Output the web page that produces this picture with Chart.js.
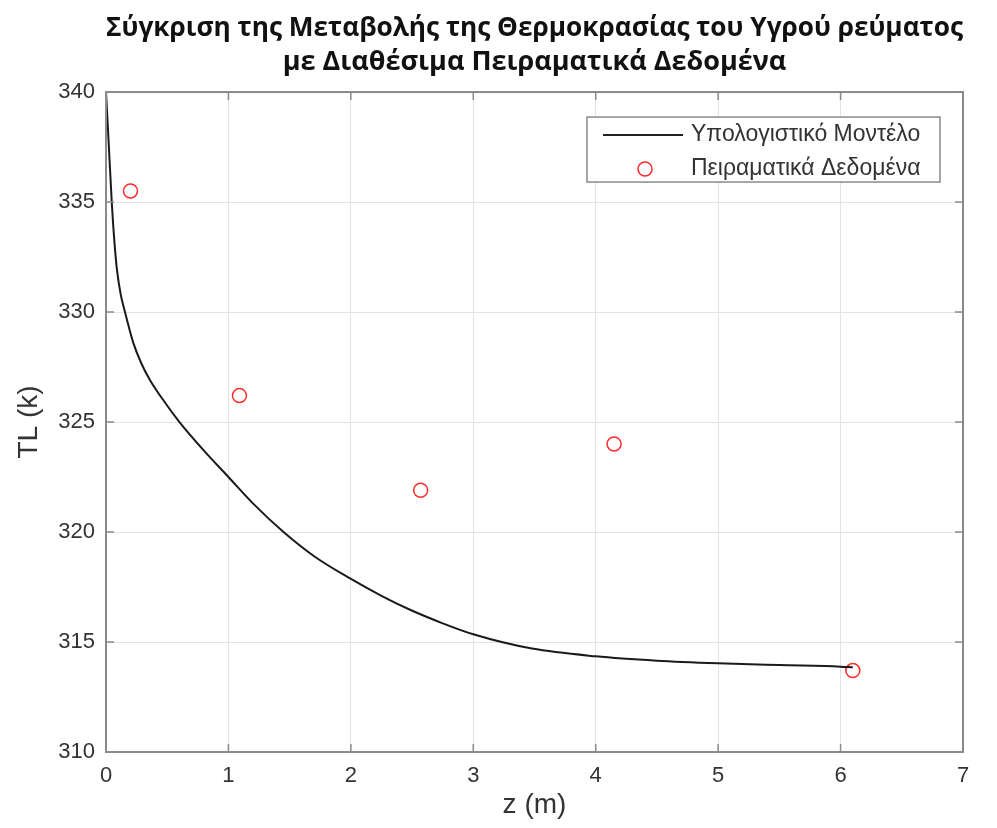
<!DOCTYPE html>
<html>
<head>
<meta charset="utf-8">
<script src="https://cdn.jsdelivr.net/npm/chart.js@4.4.0/dist/chart.umd.min.js"></script>
<style>
  html, body { margin: 0; padding: 0; background: #fff; }
  #wrap { width: 997px; height: 828px; }
</style>
</head>
<body>
<div id="wrap"><canvas id="grafik" width="997" height="828"></canvas></div>
<script>
// Υπολογιστικό μοντέλο (τιμές από το γράφημα)
const zModel = [0, 0.02, 0.047, 0.07, 0.09, 0.12, 0.155, 0.19, 0.223, 0.29, 0.36, 0.48, 0.6, 0.8, 1.0, 1.2, 1.45, 1.7, 1.99, 2.25, 2.47, 2.75, 3.0, 3.48, 4.0, 4.5, 5.0, 5.5, 6.0, 6.1];
const tlModel = [340, 337.9, 335.0, 333.1, 331.9, 330.8, 330.0, 329.25, 328.6, 327.65, 326.9, 325.9, 325.0, 323.7, 322.5, 321.3, 320.0, 318.9, 317.9, 317.1, 316.5, 315.85, 315.35, 314.7, 314.35, 314.15, 314.03, 313.95, 313.88, 313.85];

// Πειραματικά δεδομένα
const zExp = [0.2, 1.09, 2.57, 4.15, 6.1];
const tlExp = [335.5, 326.2, 321.9, 324.0, 313.7];

// Άξονες
const xMin = 0, xMax = 7, xStep = 1;
const yMin = 310, yMax = 340, yStep = 5;

const labelModel = "Υπολογιστικό Μοντέλο";
const labelExp = "Πειραματικά Δεδομένα";

const axisGray = "#8a8a8a";
const textGray = "#333333";
const sans = "'Liberation Sans', Arial, sans-serif";

// Πλαίσιο γύρω από την περιοχή και εσωτερικές υποδιαιρέσεις
const boxPlugin = {
    id: "boxPlugin",
    afterDraw(chart) {
        const { ctx, chartArea: a, scales } = chart;
        ctx.save();
        ctx.strokeStyle = axisGray;
        ctx.lineWidth = 2;
        ctx.strokeRect(a.left, a.top, a.right - a.left, a.bottom - a.top);
        ctx.lineWidth = 1.5;
        const len = 8;
        ctx.beginPath();
        scales.x.ticks.forEach(t => {
            const x = scales.x.getPixelForValue(t.value);
            ctx.moveTo(x, a.bottom); ctx.lineTo(x, a.bottom - len);
            ctx.moveTo(x, a.top); ctx.lineTo(x, a.top + len);
        });
        scales.y.ticks.forEach(t => {
            const y = scales.y.getPixelForValue(t.value);
            ctx.moveTo(a.left, y); ctx.lineTo(a.left + len, y);
            ctx.moveTo(a.right, y); ctx.lineTo(a.right - len, y);
        });
        ctx.stroke();
        ctx.restore();
    }
};

// Υπόμνημα μέσα στην περιοχή του γραφήματος (πάνω δεξιά)
const legendPlugin = {
    id: "legendPlugin",
    afterDraw(chart) {
        const { ctx, chartArea: a } = chart;
        const w = 353, h = 65;
        const x0 = a.right - 23 - w, y0 = a.top + 25;
        ctx.save();
        ctx.fillStyle = "#fff";
        ctx.fillRect(x0, y0, w, h);
        ctx.strokeStyle = axisGray;
        ctx.lineWidth = 1.5;
        ctx.strokeRect(x0, y0, w, h);

        const row1 = y0 + 18, row2 = y0 + 52;
        ctx.strokeStyle = "#222";
        ctx.lineWidth = 2;
        ctx.beginPath();
        ctx.moveTo(x0 + 16, row1); ctx.lineTo(x0 + 96, row1);
        ctx.stroke();

        ctx.strokeStyle = "#ff2a2a";
        ctx.lineWidth = 1.5;
        ctx.beginPath();
        ctx.arc(x0 + 58, row2, 7, 0, Math.PI * 2);
        ctx.stroke();

        ctx.fillStyle = textGray;
        ctx.font = "23px " + sans;
        ctx.textBaseline = "middle";
        ctx.textAlign = "left";
        ctx.fillText(labelModel, x0 + 104, row1);
        ctx.fillText(labelExp, x0 + 104, row2);
        ctx.restore();
    }
};

const ctx = document.getElementById("grafik").getContext("2d");

new Chart(ctx, {
    type: "scatter",
    data: {
        datasets: [
            {
                label: labelModel,
                type: "line",
                data: zModel.map((z, i) => ({ x: z, y: tlModel[i] })),
                borderColor: "#1a1a1a",
                borderWidth: 2,
                pointRadius: 0,
                fill: false,
                cubicInterpolationMode: "monotone"
            },
            {
                label: labelExp,
                data: zExp.map((z, i) => ({ x: z, y: tlExp[i] })),
                showLine: false,
                pointStyle: "circle",
                pointRadius: 7,
                borderWidth: 1.5,
                borderColor: "#ff2a2a",
                backgroundColor: "rgba(0,0,0,0)"
            }
        ]
    },
    options: {
        responsive: false,
        animation: false,
        layout: { padding: { left: 0, right: 34, top: 0, bottom: 0 } },
        plugins: {
            legend: { display: false },
            tooltip: { enabled: false },
            title: {
                display: true,
                fullSize: false,
                text: ["Σύγκριση της Μεταβολής της Θερμοκρασίας του Υγρού ρεύματος", "με Διαθέσιμα Πειραματικά Δεδομένα"],
                color: "#111",
                font: { family: "'Open Sans', 'Noto Sans', sans-serif", size: 27, weight: "bold", lineHeight: 1.26 },
                padding: { top: 11, bottom: 13 }
            }
        },
        scales: {
            x: {
                type: "linear",
                min: xMin,
                max: xMax,
                ticks: { stepSize: xStep, color: textGray, padding: 11, font: { family: sans, size: 22 } },
                grid: { color: "#e3e3e3", lineWidth: 1, drawTicks: false },
                border: { color: axisGray, width: 2 },
                title: { display: true, text: "z (m)", color: textGray, font: { family: sans, size: 28 }, padding: { top: 0, bottom: 6 } },
                afterFit: s => { s.height = 76; }
            },
            y: {
                type: "linear",
                min: yMin,
                max: yMax,
                ticks: { stepSize: yStep, color: textGray, padding: 11, font: { family: sans, size: 22 } },
                grid: { color: "#e3e3e3", lineWidth: 1, drawTicks: false },
                border: { color: axisGray, width: 2 },
                title: { display: true, text: "TL (k)", color: textGray, font: { family: sans, size: 28 }, padding: { top: 12, bottom: 0 } },
                afterFit: s => { s.width = 106; }
            }
        }
    },
    plugins: [boxPlugin, legendPlugin]
});
</script>
</body>
</html>
